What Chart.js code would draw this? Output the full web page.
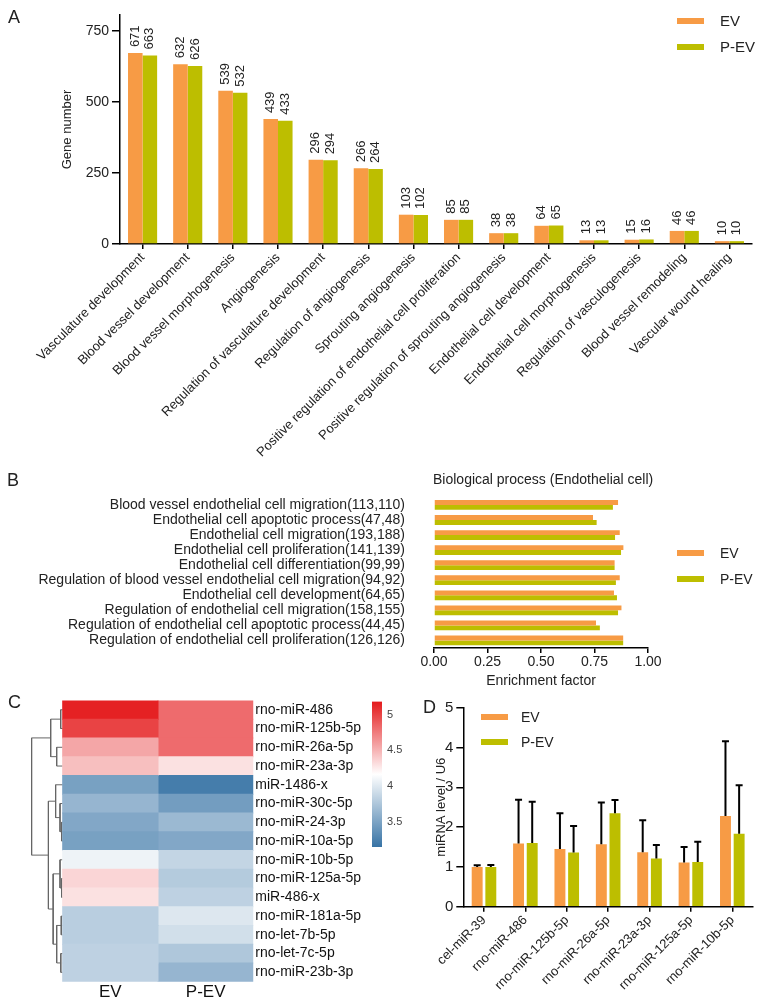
<!DOCTYPE html>
<html>
<head>
<meta charset="utf-8">
<script src="https://cdn.jsdelivr.net/npm/chart.js@4"></script>
<style>
body { margin: 0; background: #fff; font-family: "Liberation Sans", Arial, sans-serif; color: #222; }
#page { position: relative; width: 763px; height: 1005px; overflow: hidden; }
canvas { position: absolute; }
.letter { position: absolute; font-size: 18px; line-height: 1; }
.legtxt { position: absolute; line-height: 16px; white-space: nowrap; }
.sw { position: absolute; width: 27px; height: 6px; }
</style>
</head>
<body>
<div id="page">
  <canvas id="chartA" width="763" height="470" style="left:0;top:0"></canvas>
  <canvas id="chartB" width="763" height="230" style="left:0;top:460px"></canvas>
  <canvas id="chartC" width="385" height="315" style="left:0;top:690px"></canvas>
  <canvas id="chartScale" width="60" height="170" style="left:360px;top:690px"></canvas>
  <canvas id="chartD" width="363" height="315" style="left:400px;top:690px"></canvas>

  <div class="letter" style="left:8px;top:8px">A</div>
  <div class="letter" style="left:7px;top:471px">B</div>
  <div class="letter" style="left:8px;top:693px">C</div>
  <div class="letter" style="left:423px;top:698px">D</div>

  <div class="legtxt" style="left:433px;top:471px;font-size:14px">Biological process (Endothelial cell)</div>

  <div id="legA"></div>
  <div id="legB"></div>
  <div id="legD"></div>
</div>

<script>
var evColor = "#F79B45";
var pevColor = "#BDBE00";
var fontFam = '"Liberation Sans", Arial, sans-serif';

// A: GO terms, gene numbers
var goTerms = ["Vasculature development", "Blood vessel development", "Blood vessel morphogenesis", "Angiogenesis",
  "Regulation of vasculature development", "Regulation of angiogenesis", "Sprouting angiogenesis",
  "Positive regulation of endothelial cell proliferation", "Positive regulation of sprouting angiogenesis",
  "Endothelial cell development", "Endothelial cell morphogenesis", "Regulation of vasculogenesis",
  "Blood vessel remodeling", "Vascular wound healing"];
var evGenes  = [671, 632, 539, 439, 296, 266, 103, 85, 38, 64, 13, 15, 46, 10];
var pevGenes = [663, 626, 532, 433, 294, 264, 102, 85, 38, 65, 13, 16, 46, 10];
var geneTicks = [0, 250, 500, 750];

// B: enrichment
var bpTerms = ["Blood vessel endothelial cell migration(113,110)", "Endothelial cell apoptotic process(47,48)",
  "Endothelial cell migration(193,188)", "Endothelial cell proliferation(141,139)",
  "Endothelial cell differentiation(99,99)", "Regulation of blood vessel endothelial cell migration(94,92)",
  "Endothelial cell development(64,65)", "Regulation of endothelial cell migration(158,155)",
  "Regulation of endothelial cell apoptotic process(44,45)", "Regulation of endothelial cell proliferation(126,126)"];
var evEnrich  = [0.860, 0.743, 0.868, 0.885, 0.844, 0.868, 0.841, 0.876, 0.757, 0.884];
var pevEnrich = [0.836, 0.760, 0.846, 0.874, 0.844, 0.850, 0.855, 0.860, 0.775, 0.884];
var enrichTicks = [0, 0.25, 0.5, 0.75, 1];

// C: heatmap
var mirNames = ["rno-miR-486", "rno-miR-125b-5p", "rno-miR-26a-5p", "rno-miR-23a-3p", "miR-1486-x",
  "rno-miR-30c-5p", "rno-miR-24-3p", "rno-miR-10a-5p", "rno-miR-10b-5p", "rno-miR-125a-5p",
  "miR-486-x", "rno-miR-181a-5p", "rno-let-7b-5p", "rno-let-7c-5p", "rno-miR-23b-3p"];
var heatCols = ["EV", "P-EV"];
var evExpr  = [5.15, 5.00, 4.56, 4.45, 3.48, 3.63, 3.53, 3.48, 4.08, 4.35, 4.30, 3.81, 3.81, 3.835, 3.835];
var pevExpr = [4.82, 4.82, 4.82, 4.30, 3.22, 3.455, 3.66, 3.53, 3.86, 3.785, 3.835, 3.99, 3.93, 3.76, 3.63];
var colorTicks = [3.5, 4, 4.5, 5];
var colorMin = 3.15, colorMax = 5.18;
// dendrogram: [left node, right node, height]; leaves are 0-14, merge k makes node 15+k
var merges = [[0, 1, 0.021], [2, 3, 0.063], [15, 16, 0.126], [6, 7, 0.011], [5, 18, 0.028], [4, 19, 0.074],
  [9, 10, 0.011], [8, 21, 0.028], [11, 12, 0.015], [13, 14, 0.02], [23, 24, 0.063], [22, 25, 0.1],
  [20, 26, 0.15], [17, 27, 0.326]];

// D: qPCR
var qpcrTargets = ["cel-miR-39", "rno-miR-486", "rno-miR-125b-5p", "rno-miR-26a-5p", "rno-miR-23a-3p", "rno-miR-125a-5p", "rno-miR-10b-5p"];
var evLevel  = [1.00, 1.59, 1.45, 1.57, 1.37, 1.11, 2.28];
var evErr    = [0.04, 1.10, 0.90, 1.05, 0.80, 0.39, 1.88];
var pevLevel = [1.00, 1.60, 1.36, 2.35, 1.21, 1.12, 1.83];
var pevErr   = [0.05, 1.04, 0.67, 0.33, 0.34, 0.51, 1.22];
var levelTicks = [0, 1, 2, 3, 4, 5];

Chart.defaults.font.family = fontFam;
Chart.defaults.color = "#222";
Chart.defaults.animation = false;
Chart.defaults.responsive = false;
Chart.defaults.events = [];
Chart.defaults.plugins.legend.display = false;
Chart.defaults.plugins.tooltip.enabled = false;

function legend(id, x, y, gap, txtX, size) {
  var el = document.getElementById(id);
  var items = [["EV", evColor], ["P-EV", pevColor]];
  var html = "";
  for (var i = 0; i < items.length; i++) {
    var cy = y + i * gap;
    html += '<div class="sw" style="left:' + x + 'px;top:' + (cy - 3) + 'px;background:' + items[i][1] + '"></div>';
    html += '<div class="legtxt" style="left:' + txtX + 'px;top:' + (cy - 8) + 'px;font-size:' + size + 'px">' + items[i][0] + '</div>';
  }
  el.innerHTML = html;
}
legend("legA", 677, 21, 25.5, 720, 15);
legend("legB", 677, 553, 26, 720, 14);
legend("legD", 481, 717, 25, 521, 14);

function heatColor(v) {
  var mid = (colorMin + colorMax) / 2;
  var lo = [55, 115, 165], hi = [228, 26, 28], c;
  if (v >= mid) {
    var t = Math.min(1, (v - mid) / (colorMax - mid));
    c = [255 + (hi[0] - 255) * t, 255 + (hi[1] - 255) * t, 255 + (hi[2] - 255) * t];
  } else {
    var s = Math.min(1, (mid - v) / (mid - colorMin));
    c = [255 + (lo[0] - 255) * s, 255 + (lo[1] - 255) * s, 255 + (lo[2] - 255) * s];
  }
  return "rgb(" + Math.round(c[0]) + "," + Math.round(c[1]) + "," + Math.round(c[2]) + ")";
}

var axisLine = { color: "#000", width: 1.5 };
var tickMarks = function (len) { return { drawOnChartArea: false, drawTicks: true, tickLength: len, color: "#000", lineWidth: 1.5, offset: false }; };

// vertical value labels above bars
var barValueLabels = {
  id: "barValueLabels",
  afterDatasetsDraw: function (chart) {
    var ctx = chart.ctx;
    ctx.save();
    ctx.font = "13px " + fontFam;
    ctx.fillStyle = "#222";
    ctx.textAlign = "left";
    ctx.textBaseline = "middle";
    chart.data.datasets.forEach(function (ds, i) {
      chart.getDatasetMeta(i).data.forEach(function (bar, j) {
        ctx.save();
        ctx.translate(bar.x, bar.y - 6);
        ctx.rotate(-Math.PI / 2);
        ctx.fillText(String(ds.data[j]), 0, 0);
        ctx.restore();
      });
    });
    ctx.restore();
  }
};

new Chart(document.getElementById("chartA"), {
  type: "bar",
  data: {
    labels: goTerms,
    datasets: [
      { label: "EV", data: evGenes, backgroundColor: evColor, categoryPercentage: 0.645, barPercentage: 1 },
      { label: "P-EV", data: pevGenes, backgroundColor: pevColor, categoryPercentage: 0.645, barPercentage: 1 }
    ]
  },
  options: {
    layout: { padding: { top: 15, right: 11, left: 0, bottom: 0 } },
    scales: {
      x: {
        grid: tickMarks(5), border: axisLine,
        ticks: { autoSkip: false, maxRotation: 45, minRotation: 45, font: { size: 13 }, padding: 1 },
        afterFit: function (s) { s.height = 470 - 244; }
      },
      y: {
        min: 0, max: 805,
        afterBuildTicks: function (s) { s.ticks = geneTicks.map(function (v) { return { value: v }; }); },
        grid: tickMarks(8), border: axisLine,
        ticks: { font: { size: 14 }, padding: 3 },
        title: { display: true, text: "Gene number", font: { size: 13 }, padding: { top: 60, bottom: 0 } },
        afterFit: function (s) { s.width = 120; }
      }
    }
  },
  plugins: [barValueLabels]
});

new Chart(document.getElementById("chartB"), {
  type: "bar",
  data: {
    labels: bpTerms,
    datasets: [
      { label: "EV", data: evEnrich, backgroundColor: evColor, categoryPercentage: 0.65, barPercentage: 1 },
      { label: "P-EV", data: pevEnrich, backgroundColor: pevColor, categoryPercentage: 0.65, barPercentage: 1 }
    ]
  },
  options: {
    indexAxis: "y",
    layout: { padding: { top: 29, right: 115, left: 0, bottom: 0 } },
    scales: {
      y: {
        grid: { display: false, drawTicks: false }, border: { display: false },
        ticks: { autoSkip: false, font: { size: 14 }, padding: 29 },
        afterFit: function (s) { s.width = 434; }
      },
      x: {
        min: 0, max: 1,
        afterBuildTicks: function (s) { s.ticks = enrichTicks.map(function (v) { return { value: v }; }); },
        grid: tickMarks(5), border: axisLine,
        ticks: { font: { size: 14 }, padding: 1, callback: function (v) { return Number(v).toFixed(2); } },
        title: { display: true, text: "Enrichment factor", font: { size: 14 }, padding: { top: -2, bottom: 0 } },
        afterFit: function (s) { s.height = 42; }
      }
    }
  }
});

// heatmap cells + dendrogram
var nodeY = mirNames.map(function (n, i) { return i + 0.5; });
var nodeH = mirNames.map(function () { return 0; });
var dendroSets = merges.map(function (m) {
  var yl = nodeY[m[0]], yr = nodeY[m[1]];
  var pts = [{ x: -nodeH[m[0]], y: yl }, { x: -m[2], y: yl }, { x: -m[2], y: yr }, { x: -nodeH[m[1]], y: yr }];
  nodeY.push((yl + yr) / 2);
  nodeH.push(m[2]);
  return { type: "line", data: pts, borderColor: "#666", borderWidth: 1, pointRadius: 0, tension: 0 };
});

function cellSet(col, values) {
  return {
    type: "bar", grouped: false, categoryPercentage: 1, barPercentage: 1, borderWidth: 0, inflateAmount: 0.5,
    data: values.map(function (v, i) { return { x: col + 0.5, y: [i, i + 1] }; }),
    backgroundColor: values.map(heatColor)
  };
}

new Chart(document.getElementById("chartC"), {
  type: "bar",
  data: { datasets: [cellSet(0, evExpr), cellSet(1, pevExpr)].concat(dendroSets) },
  options: {
    layout: { padding: { top: 9.3, left: 28, right: 0, bottom: 0 } },
    scales: {
      x: {
        type: "linear", min: -0.364, max: 2, offset: false,
        afterBuildTicks: function (s) { s.ticks = heatCols.map(function (c, i) { return { value: i + 0.5 }; }); },
        grid: { display: false, drawTicks: false }, border: { display: false },
        ticks: { font: { size: 17 }, color: "#111", padding: 0, callback: function (v, i) { return heatCols[i]; } },
        afterFit: function (s) { s.height = 23.3; }
      },
      y: {
        type: "linear", position: "right", reverse: true, min: 0, max: 15, offset: false,
        afterBuildTicks: function (s) { s.ticks = mirNames.map(function (n, i) { return { value: i + 0.5 }; }); },
        grid: { display: false, drawTicks: false }, border: { display: false },
        ticks: { font: { size: 14 }, color: "#111", padding: 2, callback: function (v, i) { return mirNames[i]; } },
        afterFit: function (s) { s.width = 131.7; }
      }
    }
  }
});

// colour key
new Chart(document.getElementById("chartScale"), {
  type: "bar",
  data: {
    labels: ["key"],
    datasets: [{
      data: [[colorMin, colorMax]], barPercentage: 1, categoryPercentage: 1, borderWidth: 0,
      backgroundColor: function (ctx) {
        var c = ctx.chart, y = c.scales.y;
        if (!c.chartArea || !y) return heatColor((colorMin + colorMax) / 2);
        var g = c.ctx.createLinearGradient(0, y.getPixelForValue(colorMin), 0, y.getPixelForValue(colorMax));
        for (var k = 0; k <= 10; k++) g.addColorStop(k / 10, heatColor(colorMin + (colorMax - colorMin) * k / 10));
        return g;
      }
    }]
  },
  options: {
    layout: { padding: { top: 9, left: 12, right: 0, bottom: 13 } },
    scales: {
      x: { display: false },
      y: {
        position: "right", min: colorMin, max: colorMax,
        afterBuildTicks: function (s) { s.ticks = colorTicks.map(function (v) { return { value: v }; }); },
        grid: { display: false, drawTicks: false }, border: { display: false },
        ticks: { font: { size: 11 }, color: "#444", padding: 5, callback: function (v) { return String(v); } },
        afterFit: function (s) { s.width = 38; }
      }
    }
  }
});

// upward error bars
var errorBars = {
  id: "errorBars",
  afterDatasetsDraw: function (chart) {
    var ctx = chart.ctx, ys = chart.scales.y;
    ctx.save();
    ctx.strokeStyle = "#000";
    ctx.lineWidth = 2;
    chart.data.datasets.forEach(function (ds, i) {
      chart.getDatasetMeta(i).data.forEach(function (bar, j) {
        var top = ys.getPixelForValue(ds.data[j] + ds.errors[j]);
        ctx.beginPath();
        ctx.moveTo(bar.x, bar.y);
        ctx.lineTo(bar.x, top);
        ctx.moveTo(bar.x - 3.5, top);
        ctx.lineTo(bar.x + 3.5, top);
        ctx.stroke();
      });
    });
    ctx.restore();
  }
};

new Chart(document.getElementById("chartD"), {
  type: "bar",
  data: {
    labels: qpcrTargets,
    datasets: [
      { label: "EV", data: evLevel, errors: evErr, backgroundColor: evColor, categoryPercentage: 0.66, barPercentage: 0.8 },
      { label: "P-EV", data: pevLevel, errors: pevErr, backgroundColor: pevColor, categoryPercentage: 0.66, barPercentage: 0.8 }
    ]
  },
  options: {
    layout: { padding: { top: 17.7, right: 10, left: 0, bottom: 0 } },
    scales: {
      x: {
        grid: tickMarks(5), border: axisLine,
        ticks: { autoSkip: false, maxRotation: 45, minRotation: 45, font: { size: 13 }, padding: 1 },
        afterFit: function (s) { s.height = 98.3; }
      },
      y: {
        min: 0, max: 5,
        afterBuildTicks: function (s) { s.ticks = levelTicks.map(function (v) { return { value: v }; }); },
        grid: tickMarks(7), border: axisLine,
        ticks: { font: { size: 15 }, padding: 3 },
        title: { display: true, text: "miRNA level / U6", font: { size: 13 }, padding: { top: 34, bottom: 0 } },
        afterFit: function (s) { s.width = 63.3; }
      }
    }
  },
  plugins: [errorBars]
});
</script>
</body>
</html>
